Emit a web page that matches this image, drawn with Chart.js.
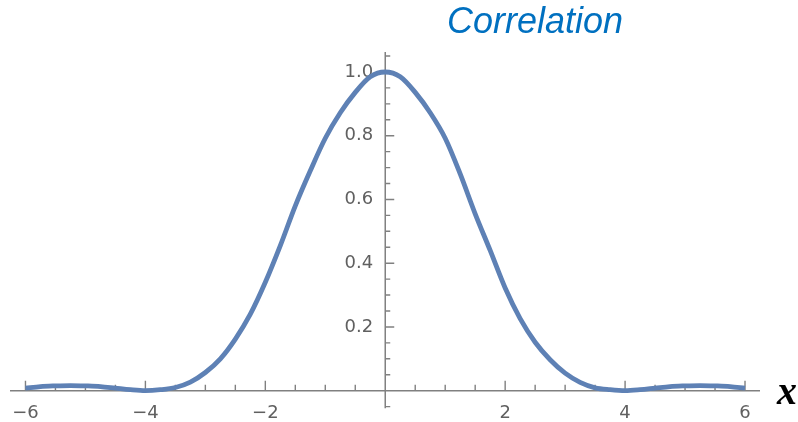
<!DOCTYPE html>
<html>
<head>
<meta charset="utf-8">
<title>Correlation</title>
<script src="https://cdn.jsdelivr.net/npm/chart.js@4.4.1/dist/chart.umd.min.js"></script>
<style>
  html, body { margin: 0; padding: 0; background: #fff; }
  #wrap { position: relative; width: 798px; height: 422px; }
</style>
</head>
<body>
<div id="wrap"><canvas id="corr-chart" width="798" height="422"></canvas></div>
<script>
// lag values and the correlation read at each lag
var lags = [-6, -5.75, -5.5, -5.25, -5, -4.75, -4.5, -4.25, -4, -3.75, -3.5, -3.25,
            -3, -2.75, -2.5, -2.25, -2, -1.75, -1.5, -1.25, -1, -0.75, -0.5, -0.25,
            0, 0.25, 0.5, 0.75, 1, 1.25, 1.5, 1.75, 2, 2.25, 2.5, 2.75,
            3, 3.25, 3.5, 3.75, 4, 4.25, 4.5, 4.75, 5, 5.25, 5.5, 5.75, 6];
var correlation = [0.008, 0.013, 0.015, 0.016, 0.015, 0.013, 0.008, 0.003, 0, 0.003, 0.01, 0.027,
                   0.057, 0.1, 0.162, 0.24, 0.34, 0.455, 0.58, 0.69, 0.792, 0.872, 0.936, 0.985,
                   1.0, 0.985, 0.936, 0.872, 0.792, 0.68, 0.555, 0.44, 0.322, 0.226, 0.152, 0.097,
                   0.055, 0.026, 0.009, 0.003, 0, 0.003, 0.008, 0.013, 0.015, 0.016, 0.015, 0.013, 0.008];

// labelled ticks
var xTickLabels = [-6, -4, -2, 2, 4, 6];
var yTickLabels = [0.2, 0.4, 0.6, 0.8, 1.0];

var axisColor = '#808080';
var lineColor = '#5e81b5';
var labelFont = { family: '"DejaVu Sans", Arial, sans-serif', size: 18 };

// vertical axis line plus small inward tick marks, Mathematica style
var axisTicks = {
  id: 'axisTicks',
  beforeDatasetsDraw: function(chart) {
    var ctx = chart.ctx;
    var area = chart.chartArea;
    var xs = chart.scales.x, ys = chart.scales.y;
    var x0 = xs.getPixelForValue(0), y0 = ys.getPixelForValue(0);
    ctx.save();
    ctx.strokeStyle = axisColor;
    ctx.lineWidth = 1.5;
    ctx.beginPath();
    ctx.moveTo(x0, area.top);
    ctx.lineTo(x0, area.bottom);
    ctx.stroke();

    ctx.lineWidth = 1.4;
    ctx.beginPath();
    for (var i = -12; i <= 12; i++) {
      if (i === 0) continue;
      var px = xs.getPixelForValue(i * 0.5);
      var len = (i % 4 === 0) ? 10 : 6;
      ctx.moveTo(px, y0);
      ctx.lineTo(px, y0 - len);
    }
    for (var j = -1; j <= 21; j++) {
      if (j === 0) continue;
      var py = ys.getPixelForValue(j * 0.05);
      var l2 = (j % 4 === 0) ? 9 : 5;
      ctx.moveTo(x0, py);
      ctx.lineTo(x0 + l2, py);
    }
    ctx.stroke();
    ctx.restore();
  },
  afterDraw: function(chart) {
    var ctx = chart.ctx;
    ctx.save();
    ctx.fillStyle = '#0070c0';
    ctx.font = 'italic 36px "Liberation Sans", Arial, sans-serif';
    ctx.textAlign = 'left';
    ctx.textBaseline = 'alphabetic';
    ctx.fillText('Correlation', 447, 33);
    ctx.fillStyle = '#000';
    ctx.font = 'italic bold 40px "Liberation Serif", "Times New Roman", serif';
    ctx.fillText('x', 777, 404);
    ctx.restore();
  }
};

var ctx = document.getElementById('corr-chart');

var chart = new Chart(ctx, {
  type: 'line',
  data: {
    labels: lags,
    datasets: [{
      label: 'Correlation',
      data: lags.map(function(v, i) { return { x: v, y: correlation[i] }; }),
      borderColor: lineColor,
      borderWidth: 4.8,
      pointRadius: 0,
      fill: false,
      cubicInterpolationMode: 'monotone'
    }]
  },
  options: {
    responsive: false,
    animation: false,
    layout: { padding: { left: 10.6, right: 38.6, top: 51.9, bottom: 13.5 } },
    plugins: {
      legend: { display: false },
      tooltip: { enabled: false }
    },
    scales: {
      x: {
        type: 'linear',
        position: { y: 0 },
        min: -6.24,
        max: 6.24,
        afterBuildTicks: function(scale) {
          scale.ticks = xTickLabels.map(function(v) { return { value: v }; });
        },
        afterFit: function(scale) { scale.height = 0; },
        grid: { display: false, drawTicks: false },
        border: { display: true, color: axisColor, width: 1.5 },
        ticks: {
          autoSkip: false,
          maxRotation: 0,
          padding: 12,
          color: '#606060',
          font: labelFont,
          callback: function(v) { return v < 0 ? '\u2212' + Math.abs(v) : String(v); }
        }
      },
      y: {
        type: 'linear',
        // labels sit a little left of the x = 0 axis line drawn by the plugin
        position: { x: -0.2 },
        min: -0.055,
        max: 1.063,
        afterBuildTicks: function(scale) {
          scale.ticks = yTickLabels.map(function(v) { return { value: v }; });
        },
        afterFit: function(scale) { scale.width = 0; },
        grid: { display: false, drawTicks: false },
        border: { display: false },
        ticks: {
          autoSkip: false,
          color: '#606060',
          font: labelFont,
          callback: function(v) { return v.toFixed(1); }
        }
      }
    }
  },
  plugins: [axisTicks]
});
</script>
</body>
</html>
